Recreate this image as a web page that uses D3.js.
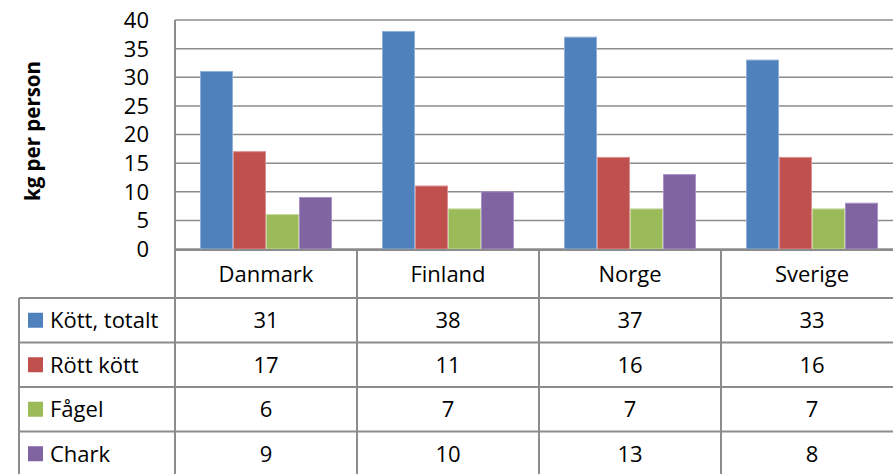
<!DOCTYPE html>
<html>
<head>
<meta charset="utf-8">
<script src="https://cdn.jsdelivr.net/npm/d3@7"></script>
<style>
  body { margin: 0; background: #fff; }
  svg text { font-family: 'Open Sans', sans-serif; fill: #000; }
  .grid line { stroke: #8c8c8c; stroke-width: 1.5; }
  .table-line { stroke: #8c8c8c; stroke-width: 2; }
</style>
</head>
<body>
<svg id="chart"></svg>
<script>
// data
var countries = ['Danmark', 'Finland', 'Norge', 'Sverige']
var seriesNames = ['Kött, totalt', 'Rött kött', 'Fågel', 'Chark']
var kottTotalt = [31, 38, 37, 33]
var rottKott = [17, 11, 16, 16]
var fagel = [6, 7, 7, 7]
var chark = [9, 10, 13, 8]
var yTicks = [0, 5, 10, 15, 20, 25, 30, 35, 40]
var colors = ['#4f81bd', '#c0504d', '#9bbb59', '#8064a2']
var borders = ['#8fb0d9', '#d9908e', '#c3d89a', '#a893c4']

var series = [kottTotalt, rottKott, fagel, chark]

var width = 893, height = 474
var plot = {left: 175, right: 903, top: 20, bottom: 249}
var legendLeft = 19
var headerBottom = 298
var rowHeight = 44.5

var svg = d3.select('#chart')
    .attr('width', width)
    .attr('height', height)

// scales
var x0 = d3.scaleBand()
    .domain(countries)
    .range([plot.left, plot.right])
    .paddingInner(0.275)
    .paddingOuter(0.1375)

var x1 = d3.scaleBand()
    .domain(seriesNames)
    .range([0, x0.bandwidth()])

var y = d3.scaleLinear()
    .domain([0, 40])
    .range([plot.bottom, plot.top])

// gridlines
svg.append('g')
    .attr('class', 'grid')
    .selectAll('line')
    .data(yTicks)
  .enter().append('line')
    .attr('x1', plot.left)
    .attr('x2', plot.right)
    .attr('y1', function (d) { return y(d) })
    .attr('y2', function (d) { return y(d) })

// y axis line
svg.append('line')
    .attr('class', 'table-line')
    .attr('x1', plot.left).attr('x2', plot.left)
    .attr('y1', plot.top).attr('y2', plot.bottom)

// y tick labels
svg.append('g')
    .selectAll('text')
    .data(yTicks)
  .enter().append('text')
    .attr('x', 149)
    .attr('y', function (d) { return y(d) })
    .attr('dy', '0.36em')
    .attr('text-anchor', 'end')
    .style('font-size', '22px')
    .text(function (d) { return d })

// y axis title
svg.append('text')
    .attr('transform', 'translate(40,131) rotate(-90)')
    .attr('text-anchor', 'middle')
    .style('font-size', '20.5px')
    .style('font-weight', 'bold')
    .text('kg per person')

// bars
var groups = svg.append('g')
    .selectAll('g')
    .data(seriesNames)
  .enter().append('g')

groups.selectAll('rect')
    .data(function (name, i) {
      return countries.map(function (c, j) {
        return {name: name, i: i, country: c, value: series[i][j]}
      })
    })
  .enter().append('rect')
    .attr('x', function (d) { return x0(d.country) + x1(d.name) + 0.5 })
    .attr('y', function (d) { return y(d.value) })
    .attr('width', x1.bandwidth() - 1)
    .attr('height', function (d) { return y(0) - y(d.value) })
    .attr('fill', function (d) { return colors[d.i] })
    .attr('stroke', function (d) { return borders[d.i] })
    .attr('stroke-width', 1)

// data table
var tableBottom = headerBottom + rowHeight * seriesNames.length
var step = x0.step()
var colEdges = countries.map(function (c) { return x0(c) - x0.paddingOuter() * step })

// horizontal lines
svg.append('line')
    .attr('class', 'table-line')
    .attr('x1', plot.left).attr('x2', plot.right)
    .attr('y1', plot.bottom + 1).attr('y2', plot.bottom + 1)

svg.append('g')
    .selectAll('line')
    .data(d3.range(seriesNames.length + 1))
  .enter().append('line')
    .attr('class', 'table-line')
    .attr('x1', legendLeft).attr('x2', plot.right)
    .attr('y1', function (i) { return headerBottom + i * rowHeight })
    .attr('y2', function (i) { return headerBottom + i * rowHeight })

// vertical lines
svg.append('line')
    .attr('class', 'table-line')
    .attr('x1', legendLeft).attr('x2', legendLeft)
    .attr('y1', headerBottom).attr('y2', tableBottom)

svg.append('g')
    .selectAll('line')
    .data(colEdges)
  .enter().append('line')
    .attr('class', 'table-line')
    .attr('x1', function (d) { return d })
    .attr('x2', function (d) { return d })
    .attr('y1', plot.bottom)
    .attr('y2', tableBottom)

// category headers
svg.append('g')
    .selectAll('text')
    .data(countries)
  .enter().append('text')
    .attr('x', function (d) { return x0(d) + x0.bandwidth() / 2 })
    .attr('y', 282)
    .attr('text-anchor', 'middle')
    .style('font-size', '22px')
    .text(function (d) { return d })

// legend keys and names
var rows = svg.append('g')
    .selectAll('g')
    .data(seriesNames)
  .enter().append('g')
    .attr('transform', function (d, i) { return 'translate(0,' + (headerBottom + i * rowHeight) + ')' })

rows.append('rect')
    .attr('x', 28)
    .attr('y', rowHeight / 2 - 7.5)
    .attr('width', 15)
    .attr('height', 15)
    .attr('fill', function (d, i) { return colors[i] })

rows.append('text')
    .attr('x', 50)
    .attr('y', rowHeight / 2)
    .attr('dy', '0.36em')
    .style('font-size', '22px')
    .text(function (d) { return d })

// values
rows.selectAll('.val')
    .data(function (d, i) { return series[i].map(function (v, j) { return {v: v, c: countries[j]} }) })
  .enter().append('text')
    .attr('class', 'val')
    .attr('x', function (d) { return x0(d.c) + x0.bandwidth() / 2 })
    .attr('y', rowHeight / 2)
    .attr('dy', '0.36em')
    .attr('text-anchor', 'middle')
    .style('font-size', '22px')
    .text(function (d) { return d.v })
</script>
</body>
</html>
